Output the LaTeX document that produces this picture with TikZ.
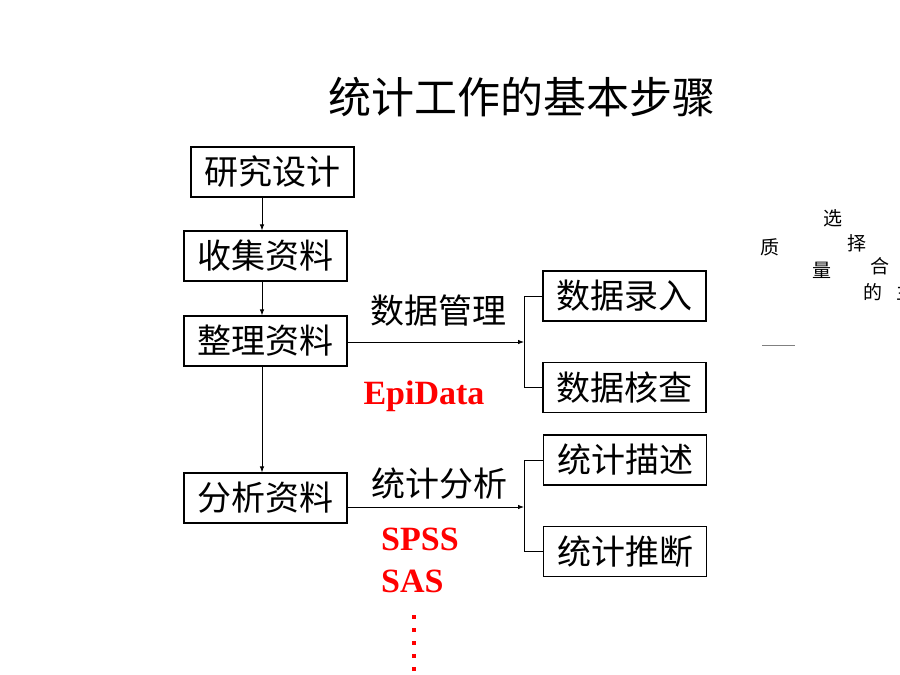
\documentclass[tikz,border=0pt]{standalone}
\usepackage{fontspec}
\setmainfont{Liberation Serif}
\newfontfamily\cjk{Noto Sans CJK SC}
\usetikzlibrary{arrows.meta}
\tikzset{
  box/.style={draw, line width=1.2pt, minimum width=163pt, minimum height=50pt, inner sep=0pt, font=\cjk\fontsize{34}{34}\selectfont},
  lbl/.style={inner sep=0pt, font=\cjk\fontsize{34}{34}\selectfont},
  redtxt/.style={inner sep=0pt, text=red, font=\bfseries\fontsize{34}{34}\selectfont},
  small/.style={inner sep=0pt, font=\cjk\fontsize{19}{19}\selectfont},
  conn/.style={line width=0.8pt},
  arr/.style={conn, -{Latex[length=6pt,width=4.5pt]}}
}
\begin{document}
\begin{tikzpicture}[x=1pt,y=-1pt]
\useasboundingbox (0,0) rectangle (900,675);
\node[inner sep=0pt, font=\cjk\fontsize{43}{43}\selectfont] (title) at (522,97) {统计工作的基本步骤};
\node[box] (n1) at (272.5,172) {研究设计};
\node[box] (n2) at (265.5,256) {收集资料};
\node[box] (n3) at (265.5,341) {整理资料};
\node[box] (n4) at (265.5,498) {分析资料};
\node[box] (d1) at (624.5,296) {数据录入};
\node[box] (d2) at (624.5,387.5) {数据核查};
\node[box] (s1) at (625,460) {统计描述};
\node[box] (s2) at (625,551.5) {统计推断};
\node[lbl] (l1) at (438,311) {数据管理};
\node[lbl] (l2) at (439,484) {统计分析};
\node[redtxt] (epi) at (424,396) {EpiData};
\node[redtxt, anchor=west] (spss) at (381,539) {SPSS};
\node[redtxt, anchor=west] (sas) at (381,581) {SAS};
\coordinate (cx) at (262,0);
\coordinate (b1) at (524,342);
\coordinate (b2) at (524,507);
\draw[arr] (n1.south -| cx) -- (n2.north -| cx);
\draw[arr] (n2.south -| cx) -- (n3.north -| cx);
\draw[arr] (n3.south -| cx) -- (n4.north -| cx);
\draw[arr] (n3.east |- b1) -- (b1);
\draw[conn] (d1.west) -| (b1);
\draw[conn] (d2.west) -| (b1);
\draw[arr] (n4.east |- b2) -- (b2);
\draw[conn] (s1.west) -| (b2);
\draw[conn] (s2.west) -| (b2);
\foreach \yy in {617,630,643,656,669}
  \fill[red] (412,\yy-2) rectangle (416,\yy+2);
\node[small] (c1) at (833,218) {选};
\node[small] (c2) at (857,243) {择};
\node[small] (c3) at (770,247) {质};
\node[small] (c4) at (822,270) {量};
\node[small] (c5) at (880,266) {合};
\node[small] (c6) at (873,292) {的};
\node[small] (c7) at (906,292) {主};
\draw[line width=1pt, gray] (762,345) -- (795,345);
\end{tikzpicture}
\end{document}
